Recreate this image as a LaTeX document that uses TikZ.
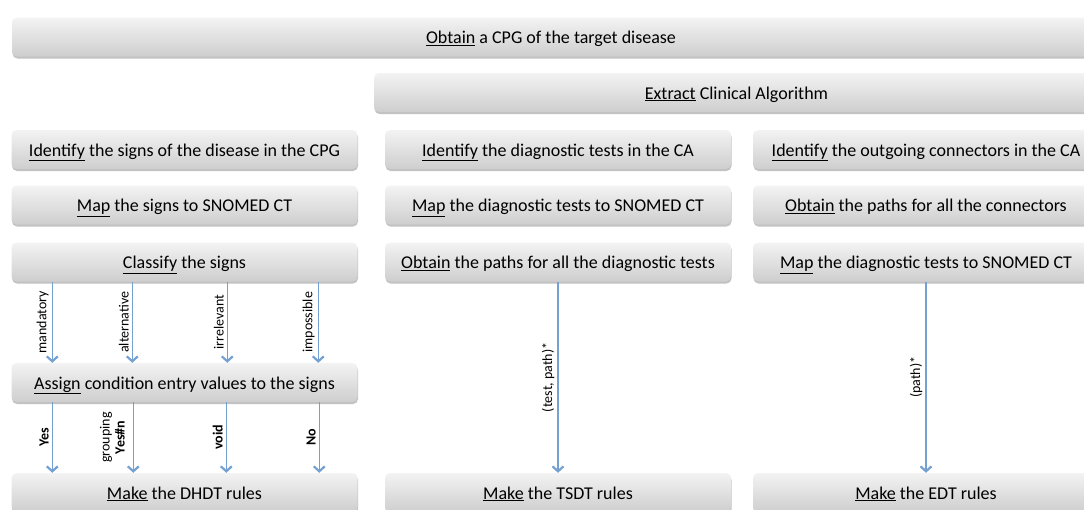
\documentclass[tikz,border=0pt]{standalone}
\usepackage{fontspec}
\setmainfont{Carlito}
\usepackage{xcolor}
\usetikzlibrary{arrows.meta,shadows}
\definecolor{flowblue}{RGB}{116,160,210}
\definecolor{boxtop}{RGB}{243,243,243}
\definecolor{boxbottom}{RGB}{206,206,206}

\begin{document}
\begin{tikzpicture}[x=1pt, y=-1pt,
    box/.style={rounded corners=5pt, top color=boxtop, bottom color=boxbottom,
      drop shadow={shadow xshift=0.5pt, shadow yshift=-2pt, opacity=0.4, fill=black!60},
      minimum height=39pt, inner sep=0pt, text height=15pt, text depth=2pt,
      font=\fontsize{18}{21}\selectfont},
    colbox/.style={box, minimum width=346pt},
    flow/.style={draw=flowblue, line width=1.2pt,
      -{Straight Barb[length=5pt, width=11pt, line width=2.2pt]}},
    lab/.style={midway, rotate=90, anchor=south, inner sep=3pt,
      font=\fontsize{14}{15}\selectfont}]
    \useasboundingbox (0,0) rectangle (1084,509);
    \clip (0,0) rectangle (1084,509);
    % shared steps
    \node[box, minimum width=1078pt] (obtain) at (551,37) {\underline{Obtain} a CPG of the target disease};
    \node[box, minimum width=725pt] (extract) at (736.5,92.5) {\underline{Extract} Clinical Algorithm};
    % signs
    \node[colbox] (signs) at (184.5,149.5) {\underline{Identify} the signs of the disease in the CPG};
    \node[colbox] (mapsigns) at (184.5,205) {\underline{Map} the signs to SNOMED CT};
    \node[colbox] (classify) at (184.5,262) {\underline{Classify} the signs};
    \node[colbox] (assign) at (184.5,382.5) {\underline{Assign} condition entry values to the signs};
    \node[colbox] (dhdt) at (184.5,492.5) {\underline{Make} the DHDT rules};
    % tests
    \node[colbox] (tests) at (558,149.5) {\underline{Identify} the diagnostic tests in the CA};
    \node[colbox] (maptests) at (558,205) {\underline{Map} the diagnostic tests to SNOMED CT};
    \node[colbox] (testpaths) at (558,262) {\underline{Obtain} the paths for all the diagnostic tests};
    \node[colbox] (tsdt) at (558,492.5) {\underline{Make} the TSDT rules};
    % connectors
    \node[colbox] (connectors) at (926,149.5) {\underline{Identify} the outgoing connectors in the CA};
    \node[colbox] (connpaths) at (926,205) {\underline{Obtain} the paths for all the connectors};
    \node[colbox] (mapconn) at (926,262) {\underline{Map} the diagnostic tests to SNOMED CT};
    \node[colbox] (edt) at (926,492.5) {\underline{Make} the EDT rules};
    % flows
    \foreach \dx/\txt in {41/mandatory, 121/alternative, 216/irrelevant, 307/impossible}
        \draw[flow] ([xshift=\dx pt]classify.south west) -- node[lab] {\txt} ([xshift=\dx pt]assign.north west);
    \foreach \dx/\txt/\sep in {41/\textbf{Yes}/3pt, 122/{grouping\\\textbf{Yes\#n}}/8pt, 215/\textbf{void}/3pt, 308/\textbf{No}/3pt}
        \draw[flow] ([xshift=\dx pt]assign.south west) -- node[lab, inner ysep=\sep, align=center] {\txt} ([xshift=\dx pt]dhdt.north west);
    \draw[flow] (testpaths) -- node[lab] {(test, path)*} (tsdt);
    \draw[flow] (mapconn) -- node[lab] {(path)*} (edt);
\end{tikzpicture}
\end{document}
